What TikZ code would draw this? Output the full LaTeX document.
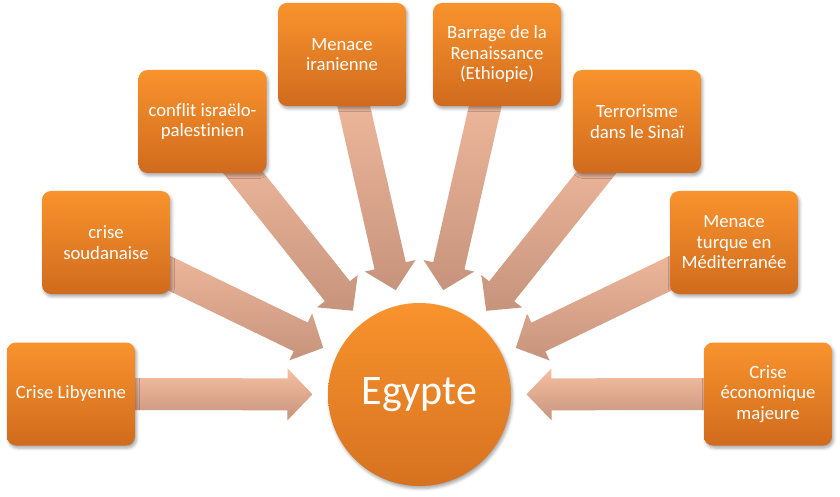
\documentclass[tikz,border=0pt]{standalone}
\usepackage{fontspec}
\setmainfont{Carlito}[Ligatures=NoCommon]
\usetikzlibrary{calc,backgrounds,shadows.blur}
\definecolor{boxtop}{RGB}{249,147,45}
\definecolor{boxbottom}{RGB}{208,107,30}
\definecolor{hubtop}{RGB}{249,147,45}
\definecolor{hubbottom}{RGB}{214,114,32}
\definecolor{arrowlight}{RGB}{247,192,162}
\definecolor{arrowdark}{RGB}{198,147,124}

\begin{document}
\begin{tikzpicture}[x=1pt, y=1pt,
    threat/.style={rectangle, rounded corners=9pt, minimum width=128pt, minimum height=103pt,
        align=center, top color=boxtop, bottom color=boxbottom, text=white,
        font=\fontsize{18.7}{20.5}\selectfont,
        blur shadow={shadow xshift=1.5pt, shadow yshift=-2.5pt, shadow blur radius=3pt, shadow opacity=35}},
    hub/.style={circle, minimum size=183pt, inner sep=0pt, top color=hubtop, bottom color=hubbottom,
        text=white, font=\fontsize{42}{50}\selectfont,
        blur shadow={shadow xshift=1.5pt, shadow yshift=-2.5pt, shadow blur radius=3pt, shadow opacity=35}},
    fatarrow/.style={top color=arrowlight, bottom color=arrowdark}]
    \useasboundingbox (0,0) rectangle (840,496);
    \node[hub] (egypte) at (419.5,101.5) {Egypte};
    \node[threat] (libye) at (71,102) {Crise Libyenne};
    \node[threat] (soudan) at (106,253.5) {crise\\soudanaise};
    \node[threat] (conflit) at (202.5,374.5) {conflit israëlo-\\palestinien};
    \node[threat] (iran) at (342,441.5) {Menace\\iranienne};
    \node[threat] (barrage) at (497,441.5) {Barrage de la\\Renaissance\\(Ethiopie)};
    \node[threat] (sinai) at (637,374.5) {Terrorisme\\dans le Sinaï};
    \node[threat] (turquie) at (734,253.5) {Menace\\turque en\\Méditerranée};
    \node[threat] (eco) at (768,102) {Crise\\économique\\majeure};
    % wide arrows towards the hub
    \begin{scope}[on background layer]
        \foreach \src in {libye,soudan,conflit,iran,barrage,sinai,turquie,eco} {
            \path[fatarrow] let \p1=($(\src.center)-(egypte.center)$), \n1={atan2(\y1,\x1)} in
                ($(egypte.center)+(\n1:107pt)$)
                -- ($(egypte.center)+(\n1:132pt)+(\n1+90:26pt)$)
                -- ($(egypte.center)+(\n1:132pt)+(\n1+90:16pt)$)
                -- ($(\src.center)+(\n1+90:16pt)$)
                -- ($(\src.center)+(\n1-90:16pt)$)
                -- ($(egypte.center)+(\n1:132pt)+(\n1-90:16pt)$)
                -- ($(egypte.center)+(\n1:132pt)+(\n1-90:26pt)$) -- cycle;
        }
    \end{scope}
\end{tikzpicture}
\end{document}
